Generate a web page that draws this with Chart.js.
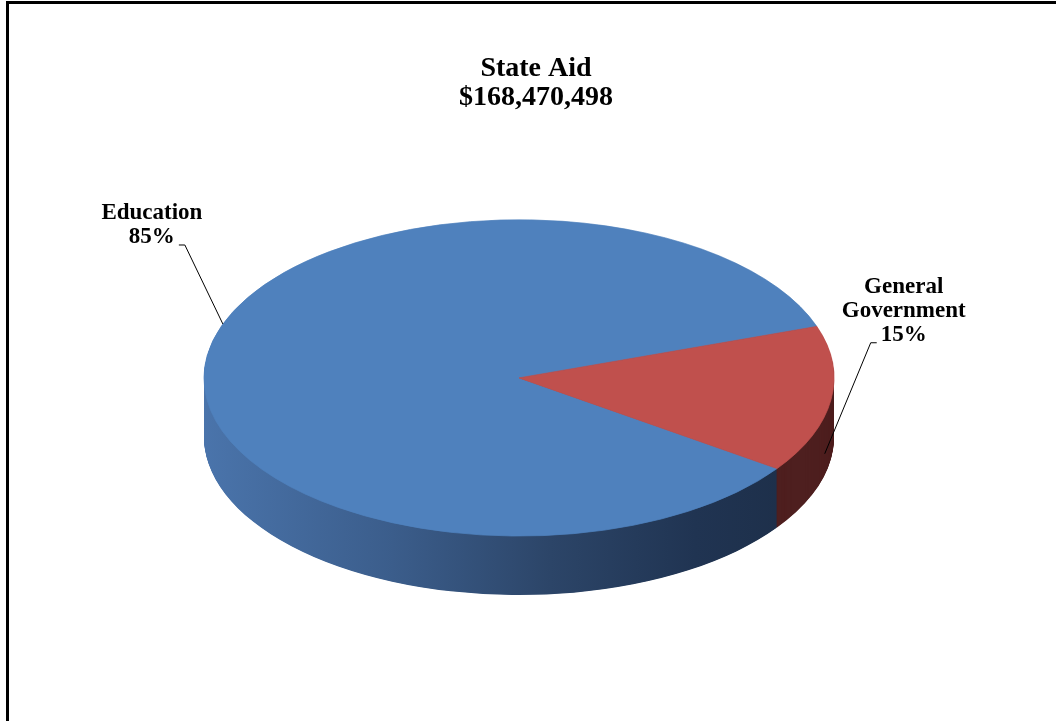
<!DOCTYPE html>
<html>
<head>
<meta charset="utf-8">
<title>State Aid</title>
<script src="https://cdn.jsdelivr.net/npm/chart.js@4.4.0/dist/chart.umd.min.js"></script>
<style>
  html, body { margin: 0; padding: 0; background: #fff; overflow: hidden; }
  #frame {
    position: absolute; left: 6px; top: 1px; width: 1100px; height: 760px;
    border-left: 3px solid #000; border-top: 3px solid #000;
  }
  #showChart { position: absolute; left: 0; top: 0; }
</style>
</head>
<body>
<div id="frame"></div>
<canvas id="showChart" width="1056" height="721"></canvas>
<script>
// data
const categories = ['Education', 'General Government'];
const amounts = [85, 15];
const titleLines = ['State Aid', '$168,470,498'];

// styles
const topColors = ['#4f81bd', '#c0504d'];
const serif = '"Liberation Serif", "Times New Roman", serif';

// fake 3D: squash the pie and stack darker copies under it
const pie3d = {
    id: 'pie3d',
    beforeDatasetsDraw(chart, args, opts) {
        const ctx = chart.ctx;
        const arcs = chart.getDatasetMeta(0).data;
        const c = arcs[0].getProps(['x', 'y', 'outerRadius'], true);

        ctx.save();
        ctx.translate(c.x + opts.shiftX, c.y);
        ctx.scale(1, opts.tilt);
        ctx.translate(-c.x, -c.y);

        const blueSide = ctx.createLinearGradient(c.x - c.outerRadius, 0, c.x + c.outerRadius, 0);
        blueSide.addColorStop(0, '#4a74ab');
        blueSide.addColorStop(0.3, '#3b5d8b');
        blueSide.addColorStop(0.55, '#2c4568');
        blueSide.addColorStop(0.78, '#203452');
        blueSide.addColorStop(1, '#1c2d46');
        const sideFill = [blueSide, '#4e1f1f'];

        for (let d = opts.depth; d > 0; d -= 0.5) {
            const dy = d / opts.tilt;
            arcs.forEach((arc, i) => {
                const p = arc.getProps(['startAngle', 'endAngle'], true);
                ctx.beginPath();
                ctx.moveTo(c.x, c.y + dy);
                ctx.arc(c.x, c.y + dy, c.outerRadius, p.startAngle, p.endAngle);
                ctx.closePath();
                ctx.fillStyle = sideFill[i];
                ctx.fill();
            });
        }
    },
    afterDatasetsDraw(chart) {
        chart.ctx.restore();
    }
};

// labels with leader lines, Excel style
const sliceLabels = {
    id: 'sliceLabels',
    afterDraw(chart, args, opts) {
        const ctx = chart.ctx;
        const p3 = chart.options.plugins.pie3d;
        const arcs = chart.getDatasetMeta(0).data;
        const total = amounts.reduce((a, b) => a + b, 0);

        arcs.forEach((arc, i) => {
            const p = arc.getProps(['x', 'y', 'startAngle', 'endAngle', 'outerRadius'], true);
            const lay = opts.layout[i];
            const a = p.startAngle + lay.frac * (p.endAngle - p.startAngle);
            const ax = p.x + p3.shiftX + p.outerRadius * Math.cos(a);
            const ay = p.y + p.outerRadius * Math.sin(a) * p3.tilt + lay.down * p3.depth;

            const lines = categories[i].split(' ');
            lines.push(Math.round(amounts[i] / total * 100) + '%');

            ctx.save();
            ctx.font = 'bold 23px ' + serif;
            ctx.fillStyle = '#000';
            ctx.textAlign = 'center';
            ctx.textBaseline = 'alphabetic';
            const cx = ax + lay.dx;
            const lastBase = ay + lay.dy;
            lines.forEach((t, k) => {
                ctx.fillText(t, cx, lastBase - (lines.length - 1 - k) * 24);
            });

            // leader line: short tick next to the last line, then to the pie
            const w = ctx.measureText(lines[lines.length - 1]).width;
            const side = ax > cx ? 1 : -1;
            const x0 = cx + side * (w / 2 + 4);
            const x1 = x0 + side * 6;
            const yl = lastBase + 2;
            ctx.strokeStyle = '#000';
            ctx.lineWidth = 1;
            ctx.beginPath();
            ctx.moveTo(x0, yl);
            ctx.lineTo(x1, yl);
            ctx.lineTo(ax, ay);
            ctx.stroke();
            ctx.restore();
        });
    }
};

var chart = new Chart(document.getElementById('showChart'), {
    type: 'pie',
    data: {
        labels: categories,
        datasets: [{
            data: amounts,
            backgroundColor: topColors,
            borderColor: topColors,
            borderWidth: 1
        }]
    },
    options: {
        responsive: false,
        animation: false,
        rotation: 125,
        radius: 315,
        layout: {
            padding: { left: 16, right: 0, top: 54, bottom: 78 }
        },
        plugins: {
            legend: { display: false },
            tooltip: { enabled: false },
            title: {
                display: true,
                text: titleLines,
                color: '#000',
                padding: 0,
                font: { family: serif, size: 28, weight: 'bold', lineHeight: 1.05 }
            },
            pie3d: { tilt: 0.502, depth: 59, shiftX: -17 },
            sliceLabels: {
                layout: [
                    { frac: 0.539, down: 0, dx: -71, dy: -81 },
                    { frac: 0.61, down: 0.64, dx: 79, dy: -113 }
                ]
            }
        }
    },
    plugins: [pie3d, sliceLabels]
});
</script>
</body>
</html>
